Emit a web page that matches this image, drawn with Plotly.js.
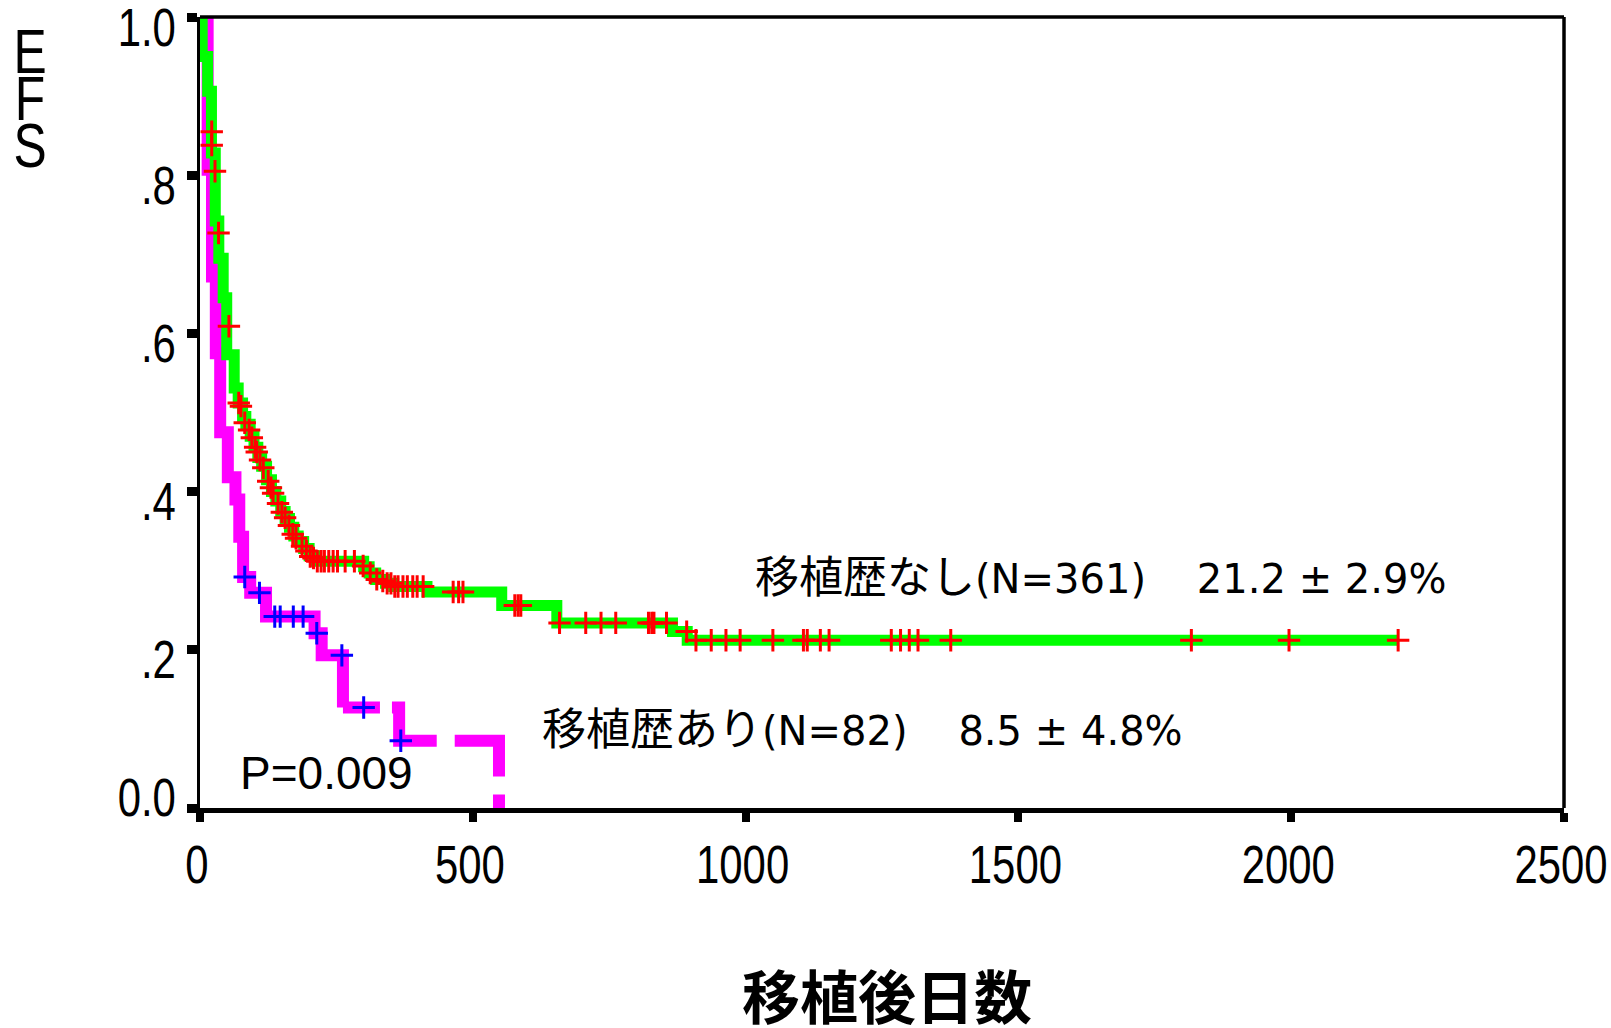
<!DOCTYPE html>
<html>
<head>
<meta charset="utf-8">
<script src="https://cdn.plot.ly/plotly-3.0.1.min.js"></script>
<style>
  html, body { margin: 0; padding: 0; background: #ffffff; }
  #chart { width: 1611px; height: 1028px; }
</style>
</head>
<body>
<div id="chart"></div>
<script>
// 移植歴なし (N=361): Kaplan–Meier steps — day of each step and EFS from that day on
const noTxTimes = [0, 4, 14, 21, 28, 34.5, 42.5, 49, 62.7, 70, 78, 84, 92, 99, 106, 113, 122, 131, 139, 148,
  156, 164, 172, 180, 190, 200, 212, 300, 310, 322, 340, 355, 416, 553, 654, 866, 893, 2196];
const noTxSurv = [1.0, 0.950, 0.906, 0.828, 0.742, 0.695, 0.645, 0.573, 0.531, 0.512, 0.495, 0.485, 0.470, 0.456, 0.443, 0.432, 0.415, 0.400, 0.388, 0.375,
  0.366, 0.355, 0.344, 0.337, 0.328, 0.319, 0.312, 0.305, 0.297, 0.289, 0.284, 0.280, 0.273, 0.256, 0.234, 0.223, 0.212, 0.212];

// 移植歴なし: censored cases (day, EFS)
const noTxCensTimes = [21.5, 21.5, 27.5, 34, 53, 71, 75, 82, 90, 95, 101, 104, 110, 116, 125, 130, 134, 143, 150, 156,
  163, 170, 176, 187, 195, 202, 208, 215, 222, 228, 236, 244, 252, 266, 283, 299, 312, 324, 335, 343,
  350, 357, 363, 372, 380, 390, 398, 409, 464, 474, 482, 577, 583, 588, 659, 707, 735, 762, 822, 828,
  832, 855, 892, 909, 937, 964, 990, 1050, 1106, 1113, 1137, 1153, 1267, 1284, 1300, 1316, 1376, 1817, 1996, 2196];
const noTxCensSurv = [0.855, 0.838, 0.805, 0.727, 0.609, 0.512, 0.508, 0.487, 0.478, 0.468, 0.456, 0.450, 0.440, 0.430, 0.413, 0.405, 0.398, 0.385, 0.374, 0.367,
  0.357, 0.346, 0.341, 0.331, 0.325, 0.318, 0.316, 0.312, 0.312, 0.312, 0.312, 0.312, 0.312, 0.312, 0.312, 0.306, 0.297, 0.289, 0.287, 0.284,
  0.284, 0.280, 0.280, 0.280, 0.280, 0.280, 0.280, 0.280, 0.273, 0.273, 0.273, 0.256, 0.256, 0.256, 0.234, 0.234, 0.234, 0.234, 0.234, 0.234,
  0.234, 0.234, 0.223, 0.212, 0.212, 0.212, 0.212, 0.212, 0.212, 0.212, 0.212, 0.212, 0.212, 0.212, 0.212, 0.212, 0.212, 0.212, 0.212, 0.212];

// 移植歴あり (N=82): Kaplan–Meier steps
const txTimes = [0, 14, 22, 29, 37, 51, 65, 72, 79, 92, 121, 210, 223, 262, 365, 548];
const txSurv  = [1.0, 0.807, 0.672, 0.575, 0.475, 0.418, 0.390, 0.343, 0.292, 0.272, 0.242, 0.221, 0.193, 0.127, 0.085, 0.0];
// tail of the 移植歴あり curve (from this day on) is drawn dashed
const txDashFrom = 262;

// 移植歴あり: censored cases
const txCensTimes = [82, 109, 137, 147, 171, 189, 214, 260, 300, 368];
const txCensSurv  = [0.292, 0.272, 0.242, 0.242, 0.242, 0.242, 0.221, 0.193, 0.127, 0.085];

// axes
const xTickVals = [0, 500, 1000, 1500, 2000, 2500];
const xTickText = ['0', '500', '1000', '1500', '2000', '2500'];
const yTickVals = [0, 0.2, 0.4, 0.6, 0.8, 1.0];
const yTickText = ['0.0', '.2', '.4', '.6', '.8', '1.0'];
const xTitle = '移植後日数';
const yTitle = ['E', 'F', 'S'];

// texts inside the plot
const groupNames = ['移植歴なし', '移植歴あり'];
const groupN = [361, 82];
const groupRate = ['21.2', '8.5'];
const groupSE = ['2.9', '4.8'];
const pText = 'P=0.009';

const sans = "'Liberation Sans', Arial, sans-serif";
const latin = "'DejaVu Sans', 'Noto Sans CJK JP', sans-serif";
const NARROW = 0.79;   // horizontal squeeze for the condensed axis lettering

const splitIdx = txTimes.indexOf(txDashFrom);

const traces = [
  {
    x: txTimes.slice(0, splitIdx + 1), y: txSurv.slice(0, splitIdx + 1),
    mode: 'lines', line: { shape: 'hv', color: '#ff00ff', width: 12 }, hoverinfo: 'skip'
  },
  {
    x: txTimes.slice(splitIdx), y: txSurv.slice(splitIdx),
    mode: 'lines', line: { shape: 'hv', color: '#ff00ff', width: 12, dash: '37px,12px,78px,18px,80px,18px,80px' }, hoverinfo: 'skip'
  },
  {
    x: noTxTimes, y: noTxSurv,
    mode: 'lines', line: { shape: 'hv', color: '#00ff00', width: 11 }, hoverinfo: 'skip'
  },
  {
    x: txCensTimes, y: txCensSurv, mode: 'markers',
    marker: { symbol: 'cross-thin-open', size: 16, color: '#0000ff', line: { color: '#0000ff', width: 3 } },
    cliponaxis: false, hoverinfo: 'skip'
  },
  {
    x: noTxCensTimes, y: noTxCensSurv, mode: 'markers',
    marker: { symbol: 'cross-thin-open', size: 16, color: '#ff0000', line: { color: '#ff0000', width: 3 } },
    cliponaxis: false, hoverinfo: 'skip'
  },
  // carries the second y axis, which only labels the 0.0 tick (set a little higher)
  { x: [], y: [], yaxis: 'y2', mode: 'lines', hoverinfo: 'skip' }
];

function groupLabel(i) {
  return '<span style="font-size:44px">' + groupNames[i] + '</span>(N=' + groupN[i] + ')\u00a0\u00a0\u00a0 ' +
    groupRate[i] + ' ± ' + groupSE[i] + '%';
}

const annotations = [
  { // stacked y-axis title
    xref: 'paper', yref: 'paper', x: -0.125, y: 1.004, xanchor: 'center', yanchor: 'top',
    text: yTitle.join('<br>'), showarrow: false, font: { family: sans, size: 63, color: '#000' }
  },
  { // x-axis title, set low in the bottom margin
    xref: 'paper', yref: 'paper', x: 0.5037, y: -0.2348, xanchor: 'center', yanchor: 'middle',
    text: xTitle, showarrow: false,
    font: { family: "'Noto Sans CJK JP', sans-serif", size: 58, weight: 700, color: '#000' }
  },
  {
    xref: 'x', yref: 'y', x: 1013, y: 0.291, xanchor: 'left', yanchor: 'middle',
    text: groupLabel(0), showarrow: false, font: { family: latin, size: 40, color: '#000' }
  },
  {
    xref: 'x', yref: 'y', x: 624, y: 0.099, xanchor: 'left', yanchor: 'middle',
    text: groupLabel(1), showarrow: false, font: { family: latin, size: 40, color: '#000' }
  },
  {
    xref: 'x', yref: 'y', x: 69, y: 0.044, xanchor: 'left', yanchor: 'middle',
    text: pText, showarrow: false, font: { family: sans, size: 46, color: '#000' }
  }
];

const yAxisBase = {
  range: [0, 1],
  ticks: 'outside', ticklen: 10, tickwidth: 9, tickcolor: '#000',
  showline: true, linewidth: 3.5, linecolor: '#000',
  showgrid: false, zeroline: false, fixedrange: true, automargin: false,
  tickfont: { family: sans, size: 53, color: '#000' },
  ticklabelstandoff: 0, ticklabeloverflow: 'allow'
};

const layout = {
  width: 1611, height: 1028,
  margin: { l: 200, r: 47, t: 17, b: 220, pad: 0 },
  paper_bgcolor: '#ffffff', plot_bgcolor: '#ffffff',
  showlegend: false,
  xaxis: {
    range: [0, 2500], tickvals: xTickVals, ticktext: xTickText,
    ticks: 'outside', ticklen: 9, tickwidth: 8, tickcolor: '#000',
    showline: true, linewidth: 5, linecolor: '#000',
    showgrid: false, zeroline: false, fixedrange: true, automargin: false,
    tickfont: { family: sans, size: 53, color: '#000' },
    ticklabelstandoff: -3, ticklabelshift: -3, ticklabeloverflow: 'allow'
  },
  yaxis: Object.assign({}, yAxisBase, {
    tickvals: yTickVals,
    ticktext: yTickText.map((t, i) => (yTickVals[i] === 0 ? '' : t)),
    ticklabelshift: 10
  }),
  yaxis2: Object.assign({}, yAxisBase, {
    overlaying: 'y', side: 'left',
    tickvals: yTickVals.filter(v => v === 0),
    ticktext: yTickText.filter((t, i) => yTickVals[i] === 0),
    ticklabelshift: -11
  }),
  shapes: [
    { type: 'line', xref: 'paper', yref: 'paper', x0: 0, x1: 1, y0: 1, y1: 1, line: { color: '#000', width: 3.5 } },
    { type: 'line', xref: 'paper', yref: 'paper', x0: 1, x1: 1, y0: 0, y1: 1, line: { color: '#000', width: 3.5 } }
  ],
  annotations: annotations
};

// squeeze a text node horizontally, keeping it real text
function condense(el) {
  const w = el.getComputedTextLength();
  if (w > 0) {
    el.setAttribute('textLength', (w * NARROW).toFixed(2));
    el.setAttribute('lengthAdjust', 'spacingAndGlyphs');
  }
}

Plotly.newPlot('chart', traces, layout, { staticPlot: true, displayModeBar: false }).then(gd => {
  gd.querySelectorAll('.xtick text, .ytick text, .y2tick text').forEach(condense);
  // tight vertical stacking of the E / F / S title letters
  const title = gd.querySelector('.annotation[data-index="0"] .annotation-text');
  if (title) {
    title.querySelectorAll('tspan.line').forEach((t, i) => {
      t.setAttribute('dy', (i * 0.746).toFixed(3) + 'em');
      condense(t);
    });
  }
});
</script>
</body>
</html>
